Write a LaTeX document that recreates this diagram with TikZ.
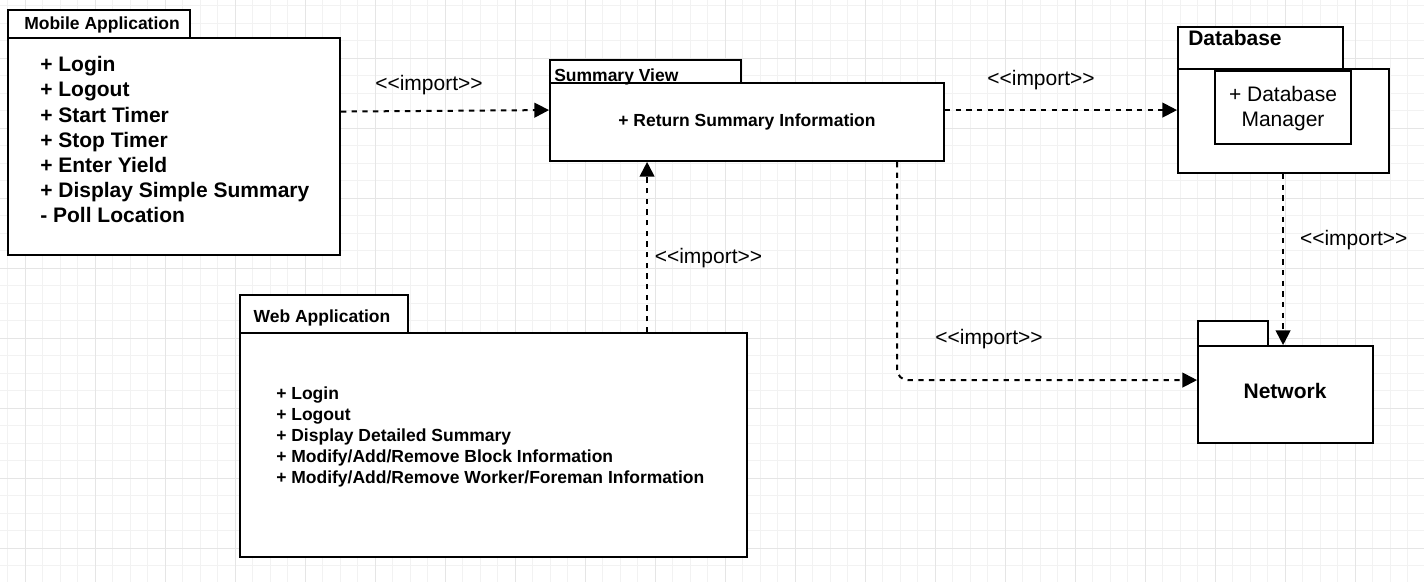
\documentclass[tikz,border=0pt]{standalone}
\usepackage{fontspec}
\setmainfont{Liberation Sans}
\usetikzlibrary{arrows.meta,calc}
\begin{document}
\begin{tikzpicture}[x=0.75pt,y=-0.75pt,
  pkg/.style={draw=black, line width=1.4pt, fill=white, inner sep=0pt, rectangle},
  gridminor/.style={draw=black!5, line width=0.6pt},
  gridmajor/.style={draw=black!10, line width=0.6pt},
  dep/.style={line width=1.5pt, dash pattern=on 4pt off 4pt, -{Triangle[length=11pt,width=11pt]}},
  lbl/.style={font=\fontsize{15.75}{18}\selectfont, inner sep=0pt, anchor=base},
  ttl/.style={font=\bfseries\fontsize{13.125}{16}\selectfont, inner sep=0pt, anchor=base west},
  bigttl/.style={font=\bfseries\fontsize{15.75}{18}\selectfont, inner sep=0pt}
]
\useasboundingbox (0,0) rectangle (1424,582);
\fill[white] (0,0) rectangle (1424,582);
% grid
\begin{scope}
\clip (0,0) rectangle (1424,582);
\foreach \i in {0,...,81} \draw[gridminor] ({7.5+17.5*\i},0) -- ++(0,582);
\foreach \i in {0,...,33} \draw[gridminor] (0,{5.5+17.5*\i}) -- ++(1424,0);
\foreach \i in {0,...,20} \draw[gridmajor] ({25+70*\i},0) -- ++(0,582);
\foreach \i in {0,...,8} \draw[gridmajor] (0,{-12+70*\i}) -- ++(1424,0);
\end{scope}

% Mobile Application
\node[pkg, minimum width=136.5pt, minimum height=21pt] (mobTab) at (99,24) {};
\node[pkg, minimum width=249pt, minimum height=162.75pt] (mobBody) at (174,146.5) {};
\node[ttl] (mobTitle) at (24,29.3) {Mobile Application};
\node[font=\bfseries\fontsize{15.75}{18.875}\selectfont, inner sep=0pt, anchor=base west, align=left] (mobItems) at (40,222.7)
  {+ Login\\+ Logout\\+ Start Timer\\+ Stop Timer\\+ Enter Yield\\+ Display Simple Summary\\- Poll Location};

% Summary View
\node[pkg, minimum width=143.25pt, minimum height=17.25pt] (sumTab) at (645.5,71.5) {};
\node[pkg, minimum width=295.5pt, minimum height=58.5pt] (sumBody) at (747,122) {};
\node[ttl] (sumTitle) at (554,81) {Summary View};
\node[font=\bfseries\fontsize{13.125}{16}\selectfont, inner sep=0pt, anchor=base] (sumText) at (747,126) {+ Return Summary Information};

% Database
\node[pkg, minimum width=123.75pt, minimum height=31.5pt] (dbTab) at (1260.5,48) {};
\node[pkg, minimum width=158.25pt, minimum height=78pt] (dbBody) at (1283.5,121) {};
\node[pkg, minimum width=102pt, minimum height=54.75pt] (dbInner) at (1283,107.5) {};
\node[bigttl, anchor=base west] (dbTitle) at (1188,45) {Database};
\node[font=\fontsize{15.75}{18.75}\selectfont, inner sep=0pt, anchor=base, align=center] (dbText) at (1283,126) {+ Database\\Manager};

% Network
\node[pkg, minimum width=52.5pt, minimum height=18.75pt] (netTab) at (1233,333.5) {};
\node[pkg, minimum width=131.25pt, minimum height=72.75pt] (netBody) at (1285.5,394.5) {};
\node[bigttl, anchor=base] (netText) at (1285,398.3) {Network};

% Web Application
\node[pkg, minimum width=126pt, minimum height=28.5pt] (webTab) at (324,314) {};
\node[pkg, minimum width=380.25pt, minimum height=168pt] (webBody) at (493.5,445) {};
\node[ttl] (webTitle) at (253.3,322.3) {Web Application};
\node[font=\bfseries\fontsize{13.125}{15.75}\selectfont, inner sep=0pt, anchor=base west, align=left] (webItems) at (276,483)
  {+ Login\\+ Logout\\+ Display Detailed Summary\\+ Modify/Add/Remove Block Information\\+ Modify/Add/Remove Worker/Foreman Information};

% connectors
\draw[dep] ($(mobBody.north east)+(0,74.5)$) -- ($(sumBody.north west)+(0,28)$);
\draw[dep] ($(webBody.north west)+(408,0)$) -- ($(sumBody.south west)+(98,0)$);
\draw[dep] ($(sumBody.north east)+(0,28)$) -- ($(dbBody.north west)+(0,42)$);
\draw[dep, rounded corners=8pt] ($(sumBody.south west)+(348,0)$) |- ($(netBody.north west)+(0,35)$);
\draw[dep] ($(dbBody.south west)+(106,0)$) -- ($(netBody.north west)+(86,0)$);

% labels
\node[lbl] (l1) at (429,90) {{<}{<}import{>}{>}};
\node[lbl] (l2) at (708.5,263) {{<}{<}import{>}{>}};
\node[lbl] (l3) at (1041,85) {{<}{<}import{>}{>}};
\node[lbl] (l4) at (989,344) {{<}{<}import{>}{>}};
\node[lbl] (l5) at (1353.7,245) {{<}{<}import{>}{>}};
\end{tikzpicture}
\end{document}
